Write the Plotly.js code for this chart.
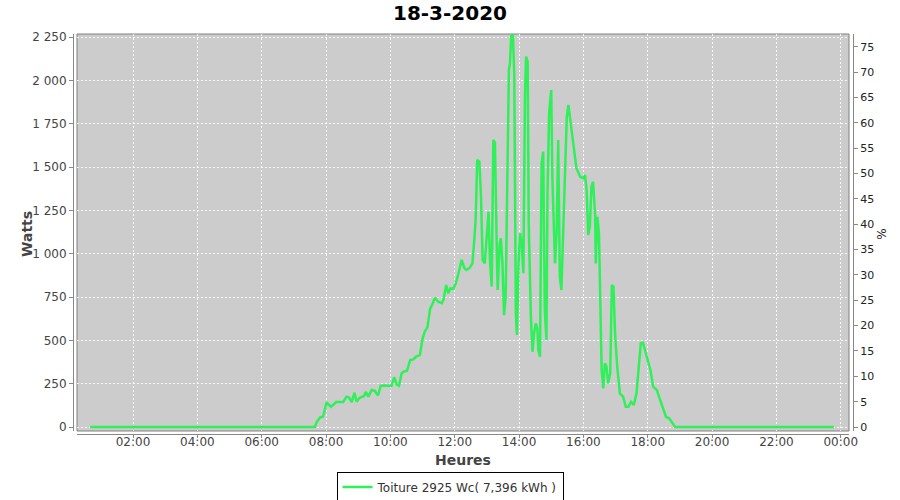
<!DOCTYPE html>
<html>
<head>
<meta charset="utf-8">
<script src="https://cdn.plot.ly/plotly-3.0.1.min.js"></script>
<style>
  html, body { margin: 0; padding: 0; background: #ffffff; }
  #chart { width: 900px; height: 500px; }
</style>
</head>
<body>
<div id="chart"></div>
<script>
// ---- data ----
const day = "2020-03-18";
const times = [
  "00:40","07:39","07:43","07:49","07:54","07:56","08:01","08:09","08:13","08:19",
  "08:32","08:38","08:43","08:48","08:53","08:57","09:02","09:11","09:14","09:19",
  "09:25","09:31","09:37","09:42","09:50","10:02","10:07","10:12","10:16","10:21",
  "10:25","10:31","10:37","10:43","10:48","10:53","10:55","11:00","11:04","11:09",
  "11:14","11:19","11:23","11:29","11:36","11:39","11:44","11:48","11:52","11:57",
  "12:02","12:07","12:13","12:18","12:22","12:28","12:33","12:36","12:39","12:42",
  "12:46","12:49","12:52","12:56","13:00","13:03","13:06","13:09","13:12","13:15",
  "13:18","13:20","13:24","13:26","13:29","13:32","13:35","13:39","13:41","13:43",
  "13:46","13:48","13:51","13:54","13:56","13:59","14:02","14:05","14:08","14:11",
  "14:13","14:16","14:18","14:22","14:25","14:28","14:31","14:34","14:36","14:39",
  "14:42","14:45","14:48","14:51","14:53","14:56","15:00","15:02","15:05","15:07",
  "15:10","15:13","15:16","15:19","15:22","15:26","15:29","15:32","15:34","15:37",
  "15:41","15:47","15:54","16:00","16:03","16:06","16:09","16:12","16:15","16:18",
  "16:22","16:23","16:26","16:29","16:34","16:37","16:40","16:43","16:46","16:50",
  "16:53","16:56","16:59","17:03","17:08","17:14","17:19","17:24","17:29","17:34",
  "17:39","17:43","17:47","17:51","17:55","18:01","18:05","18:10","18:17","18:23",
  "18:29","18:34","18:40","18:46","18:51","23:47"
];
const watts = [
  0,0,30,56,60,79,142,117,127,144,
  144,175,170,144,198,146,167,179,202,175,
  213,208,182,238,240,237,287,244,237,310,
  319,325,387,390,406,410,415,510,550,575,
  680,714,746,723,714,733,819,771,800,796,
  829,887,964,916,906,919,944,1060,1194,1541,
  1531,1329,964,944,1098,1242,944,810,1656,1640,
  1100,790,1060,1089,944,646,752,1790,2060,2099,
  2300,2300,2041,656,531,944,1118,1060,887,1906,
  2137,2108,1175,637,434,541,598,570,444,406,
  1521,1589,675,502,1348,1810,1944,1444,1194,944,
  1120,1656,867,790,1098,1521,1790,1858,1810,1752,
  1637,1492,1444,1435,1454,1367,1108,1156,1387,1415,
  1213,944,1213,1118,329,223,368,348,252,310,
  819,810,541,348,194,175,117,117,146,127,
  194,348,483,486,444,377,329,233,213,156,
  108,59,50,21,0,0
];
const peakPower = 2925;            // Wc, used for the % axis
const seriesName = "Toiture 2925 Wc( 7,396 kWh )";
const chartTitle = "18-3-2020";
const xRange = ["2020-03-18 00:15:30", "2020-03-19 00:15:20"];
const yRange = [-23.1, 2267.3];

const x = times.map(t => day + " " + t);

const trace = {
  type: "scatter",
  mode: "lines",
  x: x,
  y: watts,
  name: seriesName,
  line: { color: "rgb(48,240,90)", width: 2.5 },
  showlegend: true,
  hoverinfo: "x+y"
};

// invisible trace to carry the right (%) axis
const traceRight = {
  type: "scatter", mode: "lines",
  x: [x[0]], y: [0], yaxis: "y2",
  line: { color: "rgba(0,0,0,0)" },
  showlegend: false, hoverinfo: "skip"
};

const gridCol = "rgba(255,255,255,0.85)";
const gridDash = "2px,2px";
const axisCol = "#888888";
const tickFont = { family: "DejaVu Sans, sans-serif", size: 12, color: "#444444" };

const layout = {
  width: 900, height: 500,
  paper_bgcolor: "#ffffff",
  plot_bgcolor: "rgba(0,0,0,0)",
  separators: ", ",
  margin: { l: 73, r: 47, t: 34, b: 66, autoexpand: false },
  title: {
    text: "<b>" + chartTitle + "</b>",
    font: { family: "DejaVu Sans, sans-serif", size: 20, color: "#000000" },
    x: 0.5, xref: "container", xanchor: "center",
    y: 0.975, yref: "container", yanchor: "middle"
  },
  xaxis: {
    type: "date",
    domain: [4 / 780, 776 / 780],
    range: xRange,
    anchor: "free", position: 0,
    tick0: "2020-03-18 00:00",
    dtick: 7200000,
    tickformat: "%H:%M",
    tickfont: tickFont,
    ticklabelstandoff: -6,
    ticks: "outside", ticklen: 3, tickcolor: axisCol,
    showline: true, linecolor: axisCol, linewidth: 1,
    showgrid: true, gridcolor: gridCol, gridwidth: 1, griddash: gridDash,
    zeroline: false, fixedrange: true
  },
  yaxis: {
    domain: [3 / 400, 1],
    range: yRange,
    anchor: "free", position: 0,
    dtick: 250, tick0: 0,
    tickformat: ",d",
    tickfont: tickFont,
    ticks: "outside", ticklen: 4, tickcolor: axisCol,
    showline: true, linecolor: axisCol, linewidth: 1,
    showgrid: true, gridcolor: gridCol, gridwidth: 1, griddash: gridDash,
    zeroline: false, fixedrange: true
  },
  yaxis2: {
    overlaying: "y",
    side: "right",
    anchor: "free", position: 1,
    range: [yRange[0] / peakPower * 100, yRange[1] / peakPower * 100],
    dtick: 5, tick0: 0,
    tickfont: { family: "DejaVu Sans, sans-serif", size: 11, color: "#222222" },
    ticks: "outside", ticklen: 4, tickcolor: axisCol,
    showline: true, linecolor: axisCol, linewidth: 1,
    showgrid: false, zeroline: false, fixedrange: true
  },
  shapes: [
    {
      type: "rect", xref: "x domain", yref: "y domain",
      x0: 0, x1: 1, y0: 0, y1: 1,
      fillcolor: "#cccccc",
      line: { color: "#808080", width: 1 },
      layer: "below"
    }
  ],
  annotations: [
    {
      text: "<b>Watts</b>", xref: "paper", yref: "paper",
      x: -0.059, y: 0.5, xanchor: "center", yanchor: "middle",
      textangle: -90, showarrow: false,
      font: { family: "DejaVu Sans, sans-serif", size: 14, color: "#444444" }
    },
    {
      text: "<b>Heures</b>", xref: "paper", yref: "paper",
      x: 0.5, y: -0.065, xanchor: "center", yanchor: "middle",
      showarrow: false,
      font: { family: "DejaVu Sans, sans-serif", size: 14, color: "#444444" }
    },
    {
      text: "%", xref: "paper", yref: "paper",
      x: 1.037, y: 0.5, xanchor: "center", yanchor: "middle",
      textangle: -90, showarrow: false,
      font: { family: "DejaVu Sans, sans-serif", size: 12, color: "#222222" }
    }
  ],
  showlegend: true,
  legend: {
    orientation: "h",
    x: 0.5, xref: "container", xanchor: "center",
    y: 0.026, yref: "container", yanchor: "middle",
    bgcolor: "#ffffff",
    bordercolor: "#000000", borderwidth: 1,
    itemwidth: 30,
    font: { family: "DejaVu Sans, sans-serif", size: 12, color: "#333333" }
  },
  hovermode: false
};

Plotly.newPlot("chart", [trace, traceRight], layout, { displayModeBar: false, staticPlot: true });
</script>
</body>
</html>
